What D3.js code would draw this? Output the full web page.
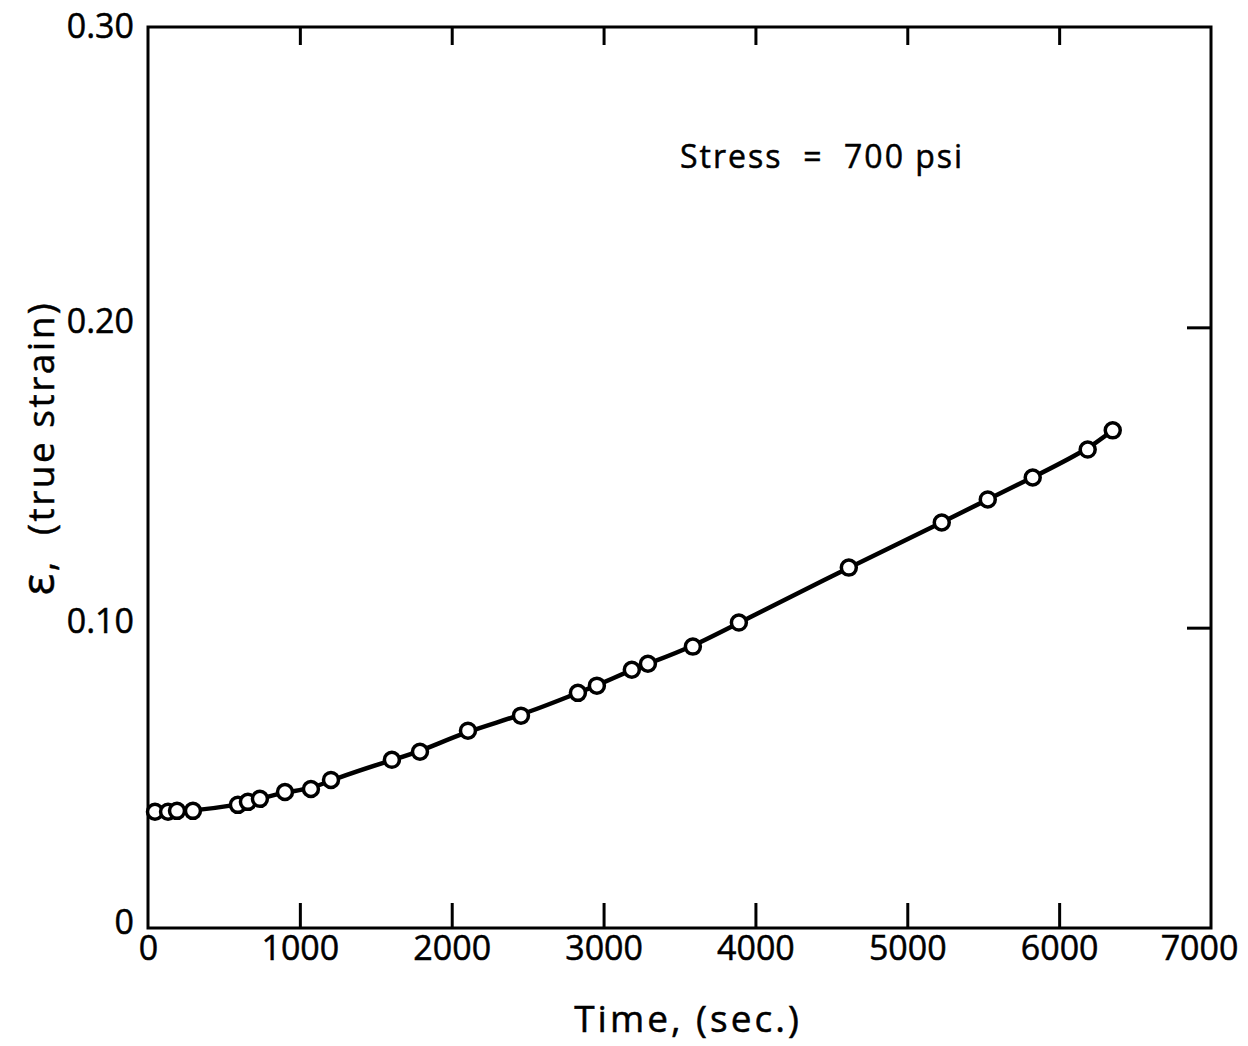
<!DOCTYPE html>
<html>
<head>
<meta charset="utf-8">
<script src="https://cdn.jsdelivr.net/npm/d3@7"></script>
<style>
  body { margin: 0; background: #fff; }
  svg { display: block; }
  .axis text { font-family: "Open Sans", "DejaVu Sans", sans-serif; fill: #000; stroke: #000; stroke-width: 0.5px; }
  .axis path, .axis line { stroke: #000; }
  .lbl { font-family: "Open Sans", "DejaVu Sans", sans-serif; fill: #000; stroke: #000; stroke-width: 0.5px; }
</style>
</head>
<body>
<svg id="chart"></svg>
<script>
// creep test, true strain vs time
const timeSec = [46, 132, 191, 296, 592, 658, 737, 902, 1073, 1205, 1606, 1791, 2107, 2456,
  2831, 2956, 3186, 3292, 3588, 3891, 4615, 5227, 5530, 5826, 6188, 6353];
const strain = [0.0387, 0.0387, 0.039, 0.039, 0.041, 0.042, 0.043, 0.0453, 0.0463, 0.0493,
  0.056, 0.0587, 0.0657, 0.0707, 0.0783, 0.0807, 0.086, 0.088, 0.0937, 0.1017,
  0.12, 0.135, 0.1427, 0.15, 0.1593, 0.1657];
const xTicks = [0, 1000, 2000, 3000, 4000, 5000, 6000, 7000];
const yTicks = [0, 0.1, 0.2, 0.3];
const yTickLabels = ["0", "0.10", "0.20", "0.30"];

const W = 1248, H = 1046;
const margin = { top: 27, right: 37, bottom: 118, left: 148 };
const width = W - margin.left - margin.right;
const height = H - margin.top - margin.bottom;

const svg = d3.select("#chart").attr("width", W).attr("height", H);
const g = svg.append("g").attr("transform", `translate(${margin.left},${margin.top})`);

const x = d3.scaleLinear().domain([0, 7000]).range([0, width]);
const y = d3.scaleLinear().domain([0, 0.3]).range([height, 0]);

// frame
g.append("rect")
  .attr("x", 0).attr("y", 0)
  .attr("width", width).attr("height", height)
  .attr("fill", "none").attr("stroke", "#000").attr("stroke-width", 3);

// bottom axis, ticks pointing in
const xAxis = g.append("g").attr("class", "axis")
  .attr("transform", `translate(0,${height})`)
  .call(d3.axisBottom(x).tickValues(xTicks).tickSizeInner(-25).tickSizeOuter(0).tickPadding(8).tickFormat(d3.format("d")));
xAxis.select(".domain").remove();
xAxis.selectAll(".tick line").attr("stroke-width", 3)
  .filter(d => d === 0 || d === 7000).remove();
xAxis.selectAll(".tick text").style("font-size", "34px")
  .attr("dx", d => d === 7000 ? -12 : 0);

// top axis ticks
const topAxis = g.append("g").attr("class", "axis")
  .call(d3.axisTop(x).tickValues(xTicks.slice(1, -1)).tickSizeInner(-18).tickSizeOuter(0).tickFormat(""));
topAxis.select(".domain").remove();
topAxis.selectAll(".tick line").attr("stroke-width", 3);

// left axis labels only
const yAxis = g.append("g").attr("class", "axis")
  .call(d3.axisLeft(y).tickValues(yTicks).tickSize(0).tickPadding(14)
    .tickFormat((d, i) => yTickLabels[i]));
yAxis.select(".domain").remove();
yAxis.selectAll(".tick text").style("font-size", "34px")
  .attr("dy", d => d === 0.3 ? "0.3em" : "0.15em");

// right axis ticks
const rightAxis = g.append("g").attr("class", "axis")
  .attr("transform", `translate(${width},0)`)
  .call(d3.axisRight(y).tickValues([0.1, 0.2]).tickSizeInner(-24).tickSizeOuter(0).tickFormat(""));
rightAxis.select(".domain").remove();
rightAxis.selectAll(".tick line").attr("stroke-width", 3);

// curve
const pts = timeSec.map((t, i) => [t, strain[i]]);
g.append("path")
  .datum(pts)
  .attr("fill", "none")
  .attr("stroke", "#000")
  .attr("stroke-width", 4.5)
  .attr("d", d3.line().x(d => x(d[0])).y(d => y(d[1])).curve(d3.curveBasis));

// markers
g.selectAll(".pt")
  .data(pts)
  .enter()
  .append("circle")
  .attr("class", "pt")
  .attr("cx", d => x(d[0]))
  .attr("cy", d => y(d[1]))
  .attr("r", 7.5)
  .attr("fill", "#fff")
  .attr("stroke", "#000")
  .attr("stroke-width", 3.5);

// annotation
svg.append("text")
  .attr("class", "lbl")
  .attr("x", 680).attr("y", 168)
  .style("font-size", "32px")
  .style("letter-spacing", "2px")
  .attr("xml:space", "preserve")
  .text("Stress  =  700 psi");

// axis titles
svg.append("text")
  .attr("class", "lbl")
  .attr("x", 688).attr("y", 1032)
  .attr("text-anchor", "middle")
  .style("font-size", "37px")
  .style("letter-spacing", "3px")
  .text("Time, (sec.)");

const yTitle = svg.append("text")
  .attr("class", "lbl")
  .attr("transform", "translate(54,448) rotate(-90)")
  .attr("text-anchor", "middle")
  .attr("xml:space", "preserve")
  .style("font-size", "37px")
  .style("letter-spacing", "2.5px");
yTitle.append("tspan").style("font-size", "45px").text("ε");
yTitle.append("tspan").text(",  (true strain)");
</script>
</body>
</html>
